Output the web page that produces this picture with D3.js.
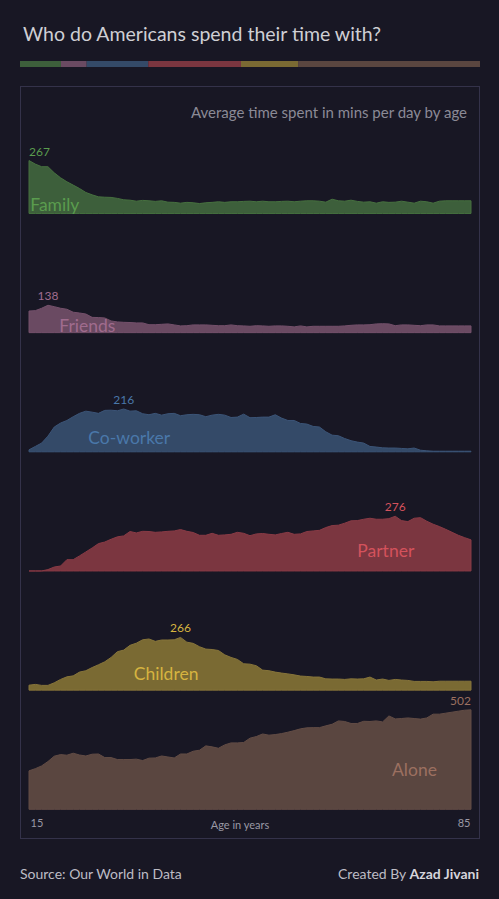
<!DOCTYPE html>
<html>
<head>
<meta charset="utf-8">
<script src="https://cdn.jsdelivr.net/npm/d3@7/dist/d3.min.js"></script>
<style>
  body { margin: 0; background: #181724; }
  svg text { font-family: Lato, "Noto Sans", sans-serif; }
</style>
</head>
<body>
<svg id="chart" width="499" height="899"></svg>
<script>
// ages on the x axis, 15 to 85
var ages = d3.range(15, 86);
var ageTicks = [15, 85];

var seriesNames = ['Family', 'Friends', 'Co-worker', 'Partner', 'Children', 'Alone'];

// average minutes per day, one value per age
var family = [267,249,236,236,205,180,160,143,126,106,
    94,84,82,81,76,69,67,62,66,64,
    61,64,57,56,52,56,54,50,54,56,
    59,56,59,59,61,62,59,62,59,59,
    61,62,59,62,64,64,62,57,72,64,
    62,67,61,57,59,52,59,56,57,62,
    57,52,62,59,52,62,64,64,64,64,
    64];
var friends = [109,111,123,138,131,123,118,103,99,94,
    77,76,74,59,54,52,51,49,49,40,
    40,42,44,39,34,35,39,39,39,37,
    35,35,39,35,34,32,35,34,32,34,
    34,32,29,34,29,32,32,32,32,32,
    34,37,39,39,40,44,45,44,35,39,
    39,37,35,39,39,34,34,34,34,34,
    34];
var coworker = [10,27,44,79,125,145,158,177,194,205,
    200,194,209,210,207,216,205,207,192,187,
    194,185,192,194,182,187,189,187,177,185,
    189,185,173,175,190,172,173,175,175,187,
    170,158,158,143,140,128,125,101,84,81,
    67,56,49,44,27,24,20,19,19,17,
    15,19,8,5,3,3,3,3,3,3,
    3];
var partner = [0,0,0,7,20,25,57,57,76,96,
    116,138,146,160,172,177,199,192,200,199,
    195,197,200,202,209,200,194,180,180,190,
    180,182,185,195,190,178,187,189,185,182,
    189,195,185,187,199,202,205,219,229,231,
    241,253,254,261,266,261,261,264,276,254,
    249,266,269,251,236,224,210,195,180,168,
    157];
var children = [25,29,24,24,37,54,67,72,91,98,
    114,128,143,165,194,202,226,237,254,258,
    246,253,253,254,266,242,236,219,207,205,
    200,178,165,155,133,131,123,101,98,91,
    86,82,77,71,69,66,66,57,56,56,
    54,57,56,57,66,51,56,49,54,51,
    49,44,44,44,42,45,45,45,45,45,
    45];
var alone = [194,205,219,241,268,276,273,283,274,269,
    278,279,261,261,251,251,251,253,246,258,
    259,269,264,259,279,279,293,298,320,315,
    308,325,335,335,337,359,367,380,374,377,
    382,389,397,406,411,412,412,421,429,446,
    443,433,433,444,443,446,441,471,456,458,
    461,458,455,461,480,480,485,490,495,500,
    502];

var seriesValues = [family, friends, coworker, partner, children, alone];

// styling per series
var fillColors  = ['#3d5f3b', '#6a4a62', '#344a68', '#7b3640', '#7a6a33', '#5a4640'];
var lineColors  = ['#46703f', '#74506b', '#3b5477', '#883a45', '#86743a', '#624c45'];
var labelColors = ['#5a9c4e', '#a06c8e', '#4a78aa', '#d4525c', '#d6b440', '#9c7060'];
// where each series name sits: age and offset above the baseline
var namePlace = [
    {age: 15.2, dy: -2},
    {age: 19.8, dy: -1},
    {age: 24.4, dy: -8},
    {age: 67.0, dy: -14},
    {age: 31.6, dy: -10},
    {age: 72.5, dy: -33}
];

var svg = d3.select('#chart');

var chart = {l: 29, r: 471, t: 94.3, b: 809.3};

var x = d3.scaleLinear().domain([15, 85]).range([chart.l, chart.r]);
var band = d3.scaleBand().domain(seriesNames).range([chart.t, chart.b]);
var h = d3.scaleLinear().domain([0, 502]).range([0, 99.5]);

// title
svg.append('text')
    .attr('x', 23).attr('y', 41)
    .attr('fill', '#cfcfd4')
    .style('font-size', '19.5px')
    .text('Who do Americans spend their time with?');

// colour strip, widths follow each series' total minutes
var totals = seriesValues.map(function(v) { return d3.sum(v); });
var cum = [0];
totals.forEach(function(t, i) { cum.push(cum[i] + t); });
var strip = d3.scaleLinear().domain([0, cum[cum.length - 1]]).range([20, 480]);
svg.append('g').selectAll('rect')
    .data(totals)
    .enter().append('rect')
    .attr('x', function(d, i) { return strip(cum[i]); })
    .attr('y', 61)
    .attr('width', function(d, i) { return strip(cum[i + 1]) - strip(cum[i]); })
    .attr('height', 6)
    .attr('fill', function(d, i) { return fillColors[i]; });

// panel frame
svg.append('rect')
    .attr('x', 20.5).attr('y', 86.5)
    .attr('width', 459).attr('height', 752)
    .attr('fill', 'none')
    .attr('stroke', '#34324a');

svg.append('text')
    .attr('x', 467).attr('y', 118)
    .attr('text-anchor', 'end')
    .attr('fill', '#8b8a96')
    .style('font-size', '15px')
    .text('Average time spent in mins per day by age');

var area = d3.area()
    .x(function(d, i) { return x(ages[i]); })
    .y0(0)
    .y1(function(d) { return -h(d); });

var rows = svg.selectAll('.row')
    .data(seriesNames)
    .enter().append('g')
    .attr('class', 'row')
    .attr('transform', function(d) { return 'translate(0,' + (band(d) + band.bandwidth()) + ')'; });

rows.append('path')
    .attr('d', function(d, i) { return area(seriesValues[i]) + 'Z'; })
    .attr('fill', function(d, i) { return fillColors[i]; })
    .attr('stroke', function(d, i) { return lineColors[i]; })
    .attr('stroke-width', 1);

rows.append('text')
    .attr('x', function(d, i) { return x(namePlace[i].age); })
    .attr('y', function(d, i) { return namePlace[i].dy; })
    .attr('fill', function(d, i) { return labelColors[i]; })
    .style('font-size', '17.5px')
    .text(function(d) { return d; });

// peak value labels
rows.append('text')
    .attr('class', 'peak')
    .attr('fill', function(d, i) { return labelColors[i]; })
    .attr('text-anchor', 'middle')
    .style('font-size', '12px')
    .text(function(d, i) { return d3.max(seriesValues[i]); })
    .each(function(d, i) {
        var v = seriesValues[i];
        var k = d3.maxIndex(v);
        var w = this.getComputedTextLength();
        var cx = Math.max(chart.l + w / 2, Math.min(chart.r - w / 2, x(ages[k])));
        d3.select(this).attr('x', cx).attr('y', -h(v[k]) - 5);
    });

// x axis
var axis = svg.append('g')
    .attr('transform', 'translate(0,' + chart.b + ')')
    .call(d3.axisBottom(x).tickValues(ageTicks).tickSize(0).tickPadding(10));
axis.select('.domain').remove();
axis.selectAll('text')
    .attr('fill', '#9a99a4')
    .style('font-size', '11px')
    .style('font-family', 'Lato, sans-serif')
    .attr('text-anchor', function(d, i) { return i === 0 ? 'start' : 'end'; })
    .attr('dx', function(d, i) { return i === 0 ? '1' : '-1'; });

svg.append('text')
    .attr('x', 240).attr('y', 829)
    .attr('text-anchor', 'middle')
    .attr('fill', '#9a99a4')
    .style('font-size', '11px')
    .text('Age in years');

// footer
svg.append('text')
    .attr('x', 20).attr('y', 879)
    .attr('fill', '#bdbcc4')
    .style('font-size', '14px')
    .text('Source: Our World in Data');

var credit = svg.append('text')
    .attr('x', 479).attr('y', 879)
    .attr('text-anchor', 'end')
    .attr('fill', '#bdbcc4')
    .style('font-size', '14px');
credit.append('tspan').text('Created By ');
credit.append('tspan').style('font-weight', 'bold').attr('fill', '#d6d5dc').text('Azad Jivani');
</script>
</body>
</html>
